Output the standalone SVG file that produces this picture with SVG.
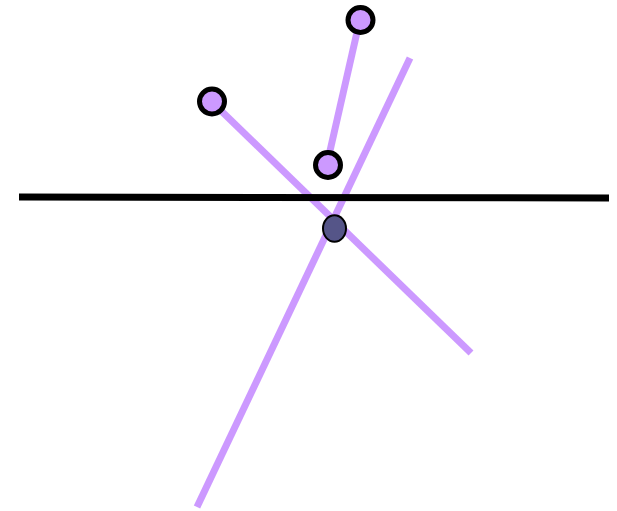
<svg xmlns="http://www.w3.org/2000/svg" width="617" height="511" viewBox="0 0 617 511">
<style>
.ray{stroke:#cc99ff;stroke-width:7;fill:none}
.pt{fill:#cc99ff;stroke:#000;stroke-width:5}
</style>
<rect width="617" height="511" fill="#fff"/>
<g id="connectors">
<line class="ray" x1="211" y1="101" x2="471" y2="353"/>
<line class="ray" x1="410" y1="58" x2="197" y2="507"/>
<line class="ray" x1="360" y1="19" x2="327" y2="164"/>
<line x1="19" y1="197" x2="609" y2="198" stroke="#000" stroke-width="7"/>
</g>
<g id="p1"><circle class="pt" cx="360.5" cy="20" r="12.5"/></g>
<g id="p2"><circle class="pt" cx="212" cy="101.5" r="12.5"/></g>
<g id="p3"><circle class="pt" cx="328" cy="165" r="12.5"/></g>
<g id="center"><ellipse cx="334.5" cy="228.5" rx="11.5" ry="13.2" fill="#555588" stroke="#000" stroke-width="2"/></g>
</svg>
